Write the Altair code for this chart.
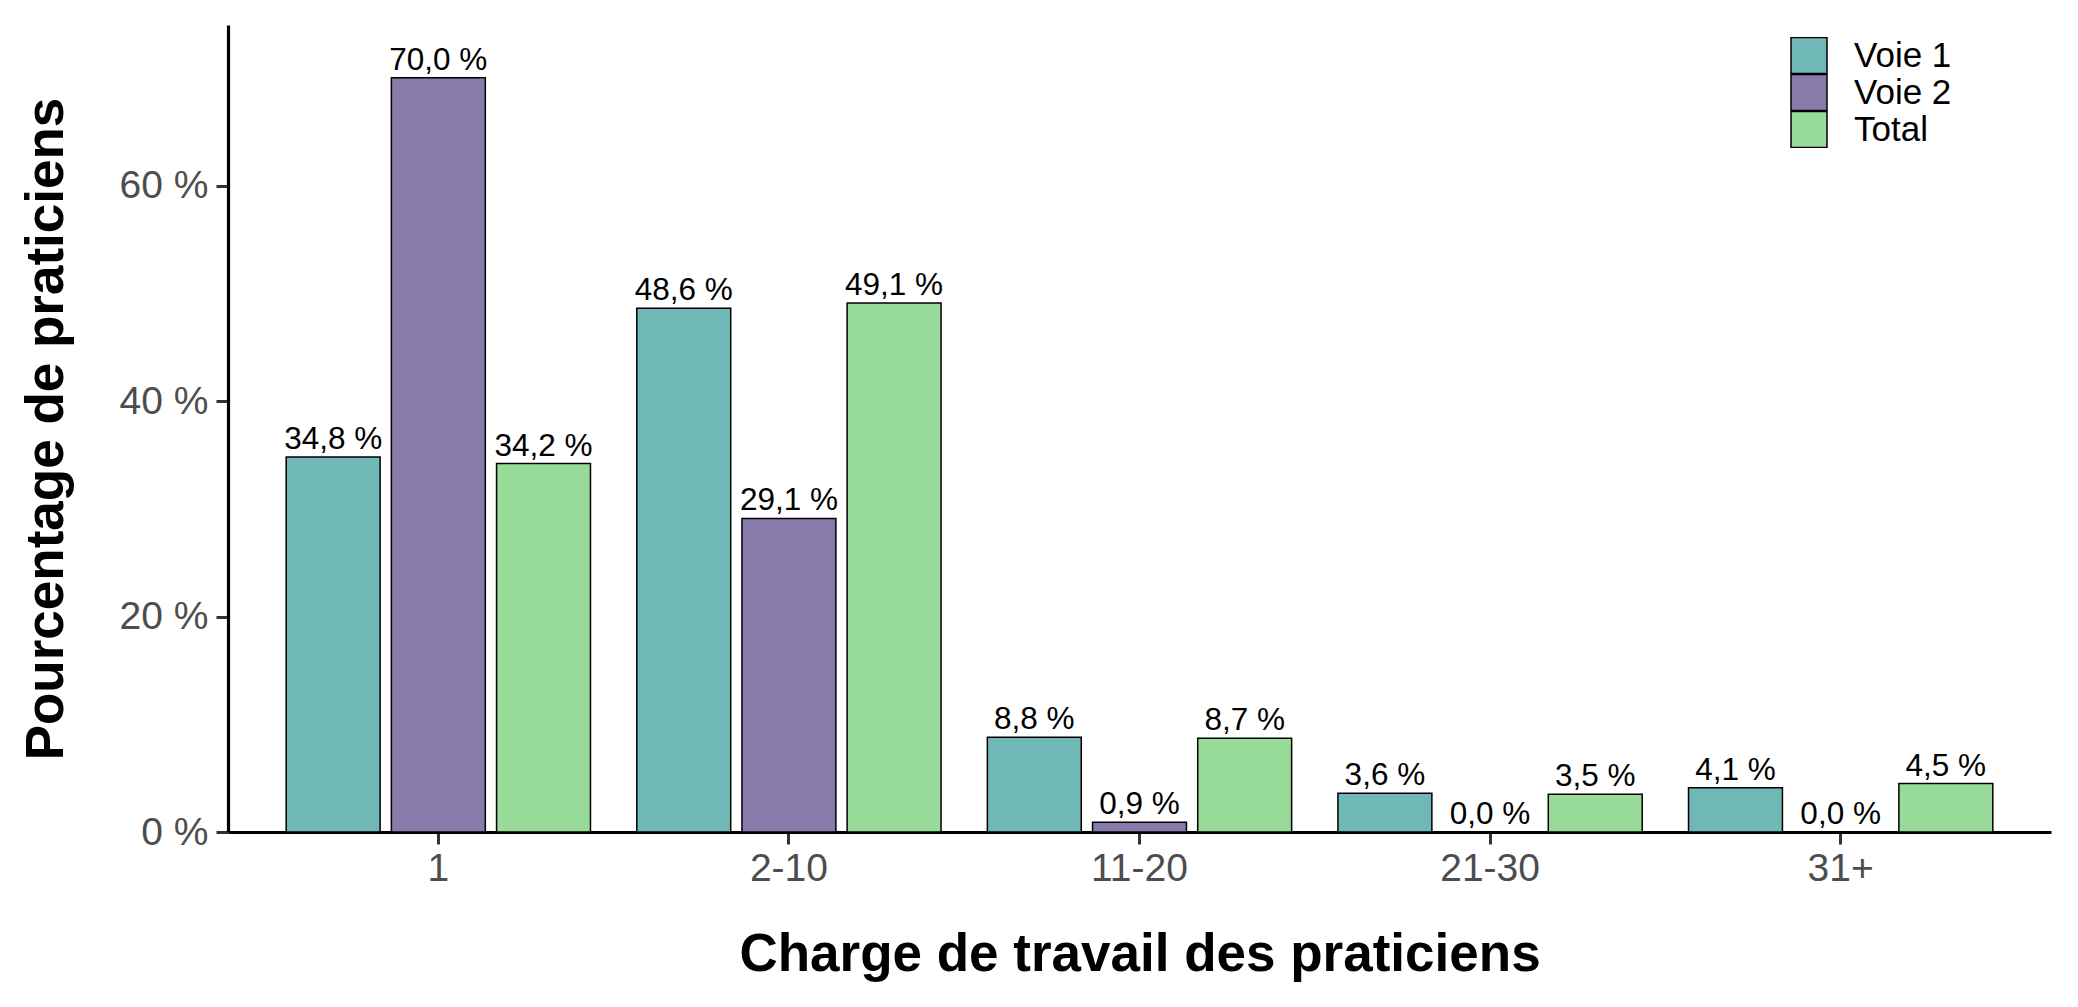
import altair as alt
import pandas as pd

categories = ["1", "2-10", "11-20", "21-30", "31+"]
groups = ["Voie 1", "Voie 2", "Total"]
voie1 = [34.8, 48.6, 8.8, 3.6, 4.1]
voie2 = [70.0, 29.1, 0.9, 0.0, 0.0]
total = [34.2, 49.1, 8.7, 3.5, 4.5]
colors = ["#70b8b5", "#887bab", "#98db98"]
y_ticks = [0, 20, 40, 60]

rows = []
for g, vals in zip(groups, [voie1, voie2, total]):
    for c, v in zip(categories, vals):
        rows.append({"cat": c, "grp": g, "val": v,
                     "lab": f"{v:.1f}".replace(".", ",") + " %"})
df = pd.DataFrame(rows)

FONT = "Liberation Sans"
W, H = 1823, 807

x_enc = alt.X("cat:N", sort=categories,
              scale=alt.Scale(paddingInner=0.1, paddingOuter=0.15),
              axis=alt.Axis(title="Charge de travail des praticiens", labelAngle=0,
                            labelFont=FONT, labelFontSize=39, labelColor="#4d4d4d",
                            labelPadding=5,
                            titleFont=FONT, titleFontSize=53, titleFontWeight="bold",
                            titleColor="black", titleY=122, titleBaseline="middle",
                            domainColor="black", domainWidth=3.2,
                            tickColor="#333333", tickWidth=3, tickSize=12))
xo_enc = alt.XOffset("grp:N", sort=groups,
                     scale=alt.Scale(paddingInner=0.107, paddingOuter=0.0535))
y_enc = alt.Y("val:Q", scale=alt.Scale(domain=[0, 74.9], nice=False),
              axis=alt.Axis(title="Pourcentage de praticiens", values=y_ticks,
                            labelExpr="datum.value + ' %'",
                            labelFont=FONT, labelFontSize=39, labelColor="#4d4d4d",
                            labelPadding=8,
                            titleFont=FONT, titleFontSize=53, titleFontWeight="bold",
                            titleColor="black", titleX=-182, titleY=H / 2,
                            titleBaseline="middle", titleAngle=-90,
                            domainColor="black", domainWidth=3.2,
                            tickColor="#333333", tickWidth=3, tickSize=12,
                            grid=False))

bars = alt.Chart(df).mark_bar(stroke="black", strokeWidth=1.5).encode(
    x=x_enc, xOffset=xo_enc, y=y_enc,
    color=alt.Color("grp:N", sort=groups,
                    scale=alt.Scale(domain=groups, range=colors),
                    legend=alt.Legend(title=None, orient="none", legendX=1562, legendY=12,
                                      symbolType="square", symbolSize=1296,
                                      symbolStrokeColor="black", symbolStrokeWidth=1.5,
                                      labelFont=FONT, labelFontSize=35, labelColor="black",
                                      labelOffset=26, rowPadding=0, padding=0,
                                      clipHeight=37)),
)

labels = alt.Chart(df).mark_text(font=FONT, fontSize=31.5, color="black",
                                 baseline="alphabetic", dy=-8).encode(
    x=alt.X("cat:N", sort=categories), xOffset=alt.XOffset("grp:N", sort=groups),
    y="val:Q", text="lab:N",
)

chart = (bars + labels).properties(
    width=W, height=H,
    background="white",
    autosize=alt.AutoSizeParams(type="none"),
    padding={"left": 220, "top": 17, "right": 10, "bottom": 150},
).configure_view(stroke=None)

chart.save("out.html", embed_options={"renderer": "svg", "actions": False})
